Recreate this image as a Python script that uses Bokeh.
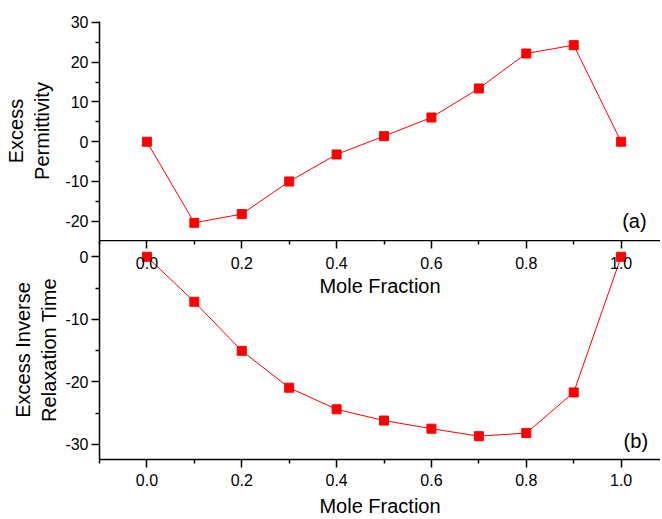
from bokeh.plotting import figure
from bokeh.models import Range1d, LinearAxis, FixedTicker, ColumnDataSource, Label, PrintfTickFormatter
from bokeh.layouts import column
from bokeh.embed import file_html
from bokeh.resources import INLINE

# ---- data ----
mole_fraction = [0.0, 0.1, 0.2, 0.3, 0.4, 0.5, 0.6, 0.7, 0.8, 0.9, 1.0]
excess_permittivity = [0.0, -20.4, -18.2, -10.0, -3.2, 1.4, 6.1, 13.4, 22.2, 24.3, 0.0]
excess_inv_relax = [0.0, -7.2, -15.05, -20.95, -24.4, -26.2, -27.5, -28.7, -28.2, -21.7, 0.0]

x_major_ticks = [0.0, 0.2, 0.4, 0.6, 0.8, 1.0]
x_minor_ticks = [-0.1, 0.1, 0.3, 0.5, 0.7, 0.9]
top_y_major = [-20, -10, 0, 10, 20, 30]
top_y_minor = [-15, -5, 5, 15, 25]
bot_y_major = [-30, -20, -10, 0]
bot_y_minor = [-25, -15, -5]

FONT = "Liberation Sans"
RED = "#ff0000"

x_range = Range1d(-0.1, 1.083)


def style_axis(ax, fmt, inward=False):
    ax.formatter = PrintfTickFormatter(format=fmt)
    ax.axis_line_width = 1.5
    ax.axis_line_color = "black"
    ax.major_tick_line_width = 1.5
    ax.minor_tick_line_width = 1.5
    ax.major_tick_line_color = "black"
    ax.minor_tick_line_color = "black"
    if inward:
        ax.major_tick_in, ax.major_tick_out = 8, 0
        ax.minor_tick_in, ax.minor_tick_out = 4, 0
    else:
        ax.major_tick_in, ax.major_tick_out = 0, 8
        ax.minor_tick_in, ax.minor_tick_out = 0, 4
    ax.major_label_text_font = FONT
    ax.major_label_text_font_size = "16px"
    ax.major_label_text_color = "black"
    ax.axis_label_text_font = FONT
    ax.axis_label_text_font_size = "20px"
    ax.axis_label_text_font_style = "normal"
    ax.axis_label_text_color = "black"
    ax.axis_label_text_align = "center"


# ---- top panel (a) ----
p1 = figure(width=660, height=240, x_range=x_range, y_range=Range1d(-24.85, 30.25),
            x_axis_location=None, output_backend="svg", toolbar_location=None,
            min_border_left=99, min_border_right=0, min_border_top=21, min_border_bottom=0)
p1.outline_line_color = None
p1.grid.visible = False
src1 = ColumnDataSource(dict(x=mole_fraction, y=excess_permittivity))
p1.line("x", "y", source=src1, line_color=RED, line_width=1)
p1.scatter("x", "y", source=src1, marker="square", size=9, fill_color=RED, line_color=RED)
ya = p1.yaxis[0]
ya.ticker = FixedTicker(ticks=top_y_major, minor_ticks=top_y_minor)
ya.axis_label = "Excess\nPermittivity"
style_axis(ya, "%d")
ya.major_label_standoff = 3
ya.axis_label_standoff = 9
p1.add_layout(Label(x=1.028, y=-20, text="(a)", text_align="center", text_baseline="middle",
                    text_font=FONT, text_font_size="20px", text_color="black"))

# ---- bottom panel (b) ----
p2 = figure(width=660, height=279, x_range=x_range, y_range=Range1d(-32.43, 2.6),
            output_backend="svg", toolbar_location=None,
            min_border_left=99, min_border_right=0, min_border_top=0, min_border_bottom=0)
p2.outline_line_color = None
p2.grid.visible = False
src2 = ColumnDataSource(dict(x=mole_fraction, y=excess_inv_relax))
p2.line("x", "y", source=src2, line_color=RED, line_width=1)
p2.scatter("x", "y", source=src2, marker="square", size=9, fill_color=RED, line_color=RED)

yb = p2.yaxis[0]
yb.ticker = FixedTicker(ticks=bot_y_major, minor_ticks=bot_y_minor)
yb.axis_label = "Excess Inverse\nRelaxation Time"
style_axis(yb, "%d")
yb.major_label_standoff = 3
yb.axis_label_standoff = 2

xb = p2.xaxis[0]
xb.ticker = FixedTicker(ticks=x_major_ticks, minor_ticks=x_minor_ticks)
xb.axis_label = "Mole Fraction"
style_axis(xb, "%.1f")
xb.major_label_standoff = 6
xb.axis_label_standoff = 6

# x axis of panel (a), drawn along the top edge of panel (b)
xt = LinearAxis(ticker=FixedTicker(ticks=x_major_ticks, minor_ticks=x_minor_ticks),
                axis_label="Mole Fraction")
style_axis(xt, "%.1f", inward=True)
xt.major_label_standoff = -28
xt.axis_label_standoff = -43
p2.add_layout(xt, "above")

p2.add_layout(Label(x=1.031, y=-29.4, text="(b)", text_align="center", text_baseline="middle",
                    text_font=FONT, text_font_size="20px", text_color="black"))

layout = column(p1, p2)
open("out.html", "w").write(file_html(layout, INLINE))
